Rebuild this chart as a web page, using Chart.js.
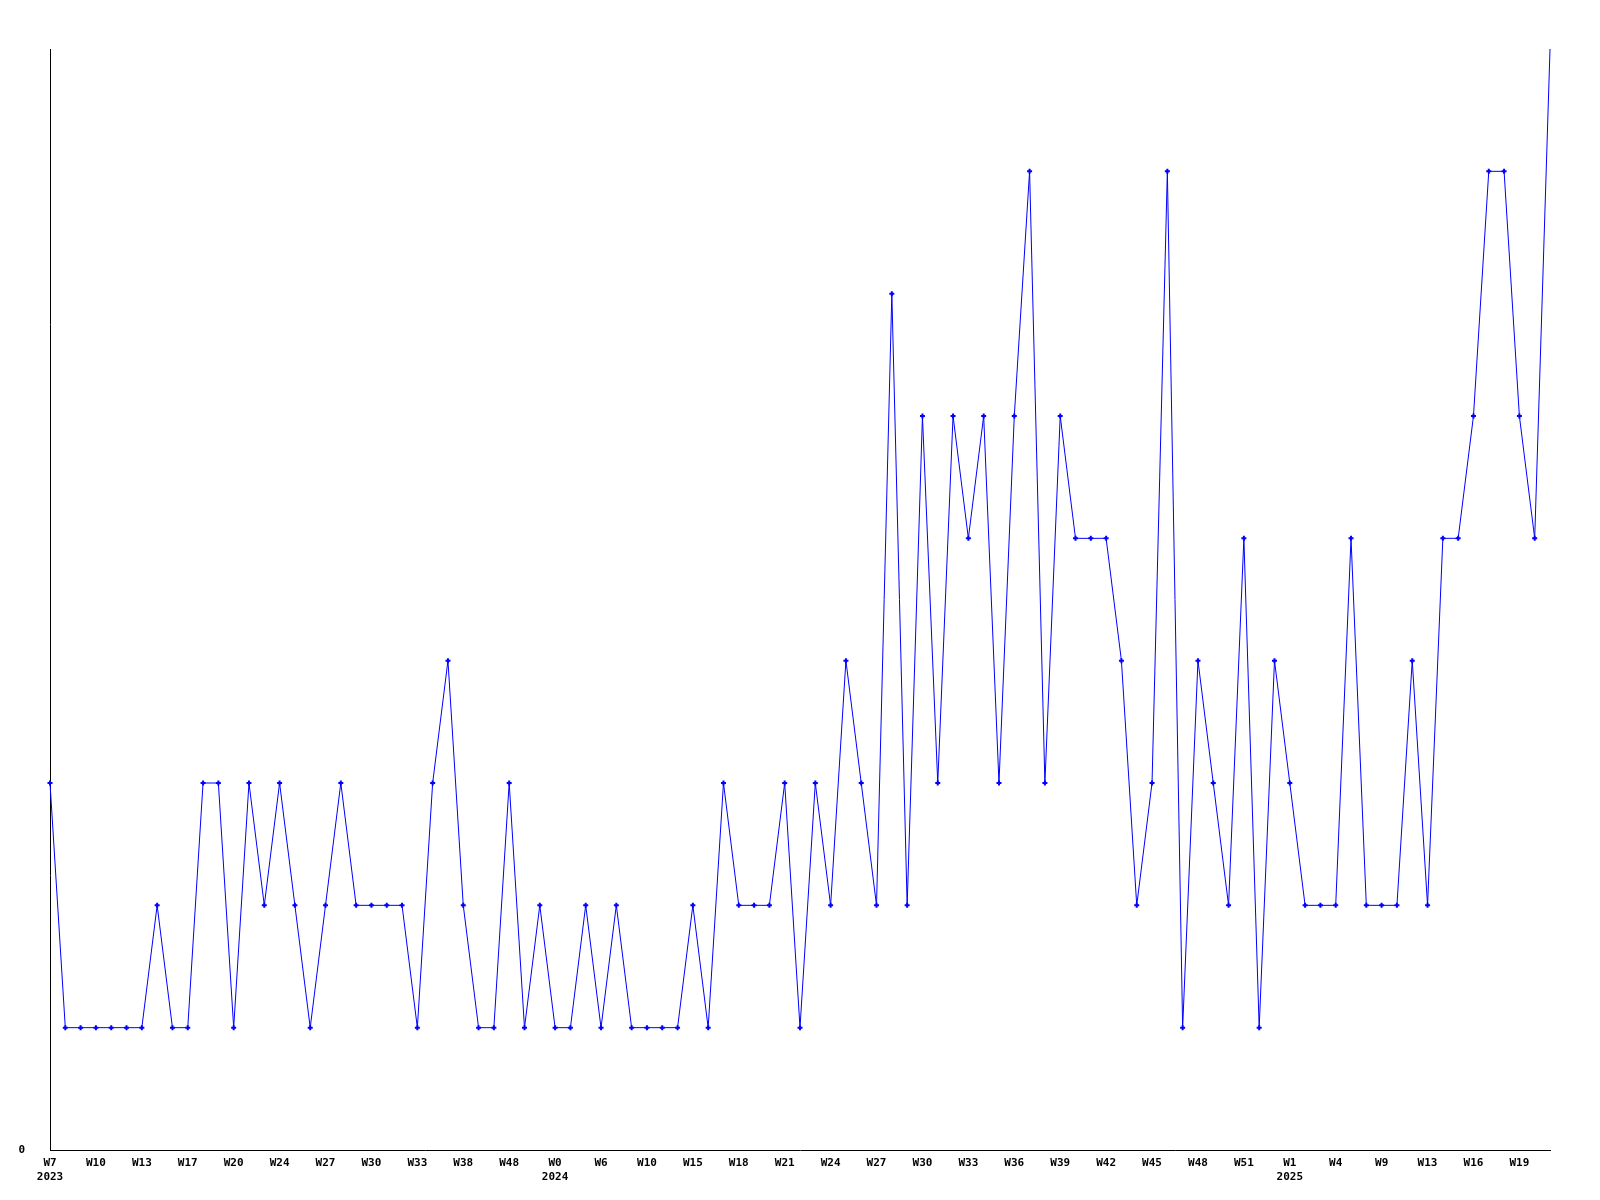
<!DOCTYPE html>
<html>
<head>
<meta charset="utf-8">
<script src="https://cdn.jsdelivr.net/npm/chart.js@4/dist/chart.umd.min.js"></script>
<style>
  html, body { margin: 0; padding: 0; background: #ffffff; }
  #wrap { width: 1600px; height: 1200px; position: relative; }
</style>
</head>
<body>
<div id="wrap"><canvas id="c" width="1600" height="1200"></canvas></div>
<script>
// Week labels for each point (only every third one is printed on the axis)
const weekLabels = [
  'W7','W8','W9','W10','W11','W12','W13','W14','W16','W17',
  'W18','W19','W20','W22','W23','W24','W25','W26','W27','W28',
  'W29','W30','W31','W32','W33','W35','W37','W38','W40','W45',
  'W48','W50','W51','W0','W2','W4','W6','W7','W8','W10',
  'W12','W13','W15','W16','W17','W18','W19','W20','W21','W22',
  'W23','W24','W25','W26','W27','W28','W29','W30','W31','W32',
  'W33','W34','W35','W36','W37','W38','W39','W40','W41','W42',
  'W43','W44','W45','W46','W47','W48','W49','W50','W51','W52',
  'W0','W1','W2','W3','W4','W6','W8','W9','W10','W12',
  'W13','W14','W15','W16','W17','W18','W19','W20','W21'
];
// Year segments: index where each year starts
const yearNames = ['2023', '2024', '2025'];
const yearStarts = [0, 33, 80];

// Series values
const counts = [
  3,1,1,1,1,1,1,2,1,1,
  3,3,1,3,2,3,2,1,2,3,
  2,2,2,2,1,3,4,2,1,1,
  3,1,2,1,1,2,1,2,1,1,
  1,1,2,1,3,2,2,2,3,1,
  3,2,4,3,2,7,2,6,3,6,
  5,6,3,6,8,3,6,5,5,5,
  4,2,3,8,1,4,3,2,5,1,
  4,3,2,2,2,5,2,2,2,4,
  2,5,5,6,8,8,6,5,9
];

const yMax = 9;
const labelEvery = 3;

function yearOf(i) {
  let y = yearNames[0];
  for (let k = 0; k < yearStarts.length; k++) {
    if (i >= yearStarts[k]) y = yearNames[k];
  }
  return y;
}

const font = { family: '"DejaVu Sans Mono", "Liberation Mono", monospace', size: 11, weight: 'bold' };

new Chart(document.getElementById('c'), {
  type: 'line',
  data: {
    labels: weekLabels,
    datasets: [{
      data: counts,
      borderColor: '#0000ff',
      backgroundColor: '#0000ff',
      borderWidth: 1,
      tension: 0,
      pointStyle: 'cross',
      // markers on the top border are clipped away in the original
      pointRadius: function(ctx) {
        const v = ctx.raw;
        return v >= yMax ? 0 : 2.5;
      },
      pointBorderWidth: 2,
      pointBorderColor: '#0000ff',
      clip: false
    }]
  },
  options: {
    responsive: false,
    animation: false,
    devicePixelRatio: 1,
    layout: { padding: { top: 49, right: 50, left: 0, bottom: 0 } },
    plugins: {
      legend: { display: false },
      tooltip: { enabled: false },
      title: { display: false }
    },
    scales: {
      x: {
        type: 'category',
        offset: false,
        grid: { display: false, drawTicks: false },
        border: { display: true, color: '#000000', width: 1 },
        ticks: {
          autoSkip: false,
          maxRotation: 0,
          minRotation: 0,
          padding: 7,
          color: '#000000',
          font: font,
          callback: function(value, index) {
            if (index % labelEvery !== 0) return '';
            const lbl = weekLabels[index];
            const y = yearOf(index);
            const prev = index - labelEvery;
            if (prev < 0 || yearOf(prev) !== y) return [lbl, y];
            return lbl;
          }
        },
        afterFit: function(scale) { scale.height = 50; }
      },
      y: {
        min: 0,
        max: yMax,
        grid: { display: false, drawTicks: false },
        border: { display: true, color: '#000000', width: 1 },
        ticks: {
          stepSize: 1,
          padding: 25,
          color: '#000000',
          font: font,
          callback: function(v) { return v === 0 ? '0' : ''; }
        },
        afterFit: function(scale) { scale.width = 50; }
      }
    }
  },
  plugins: [{
    id: 'bg',
    beforeDraw: function(chart) {
      const ctx = chart.ctx;
      ctx.save();
      ctx.fillStyle = '#ffffff';
      ctx.fillRect(0, 0, chart.width, chart.height);
      ctx.restore();
    }
  }]
});
</script>
</body>
</html>
